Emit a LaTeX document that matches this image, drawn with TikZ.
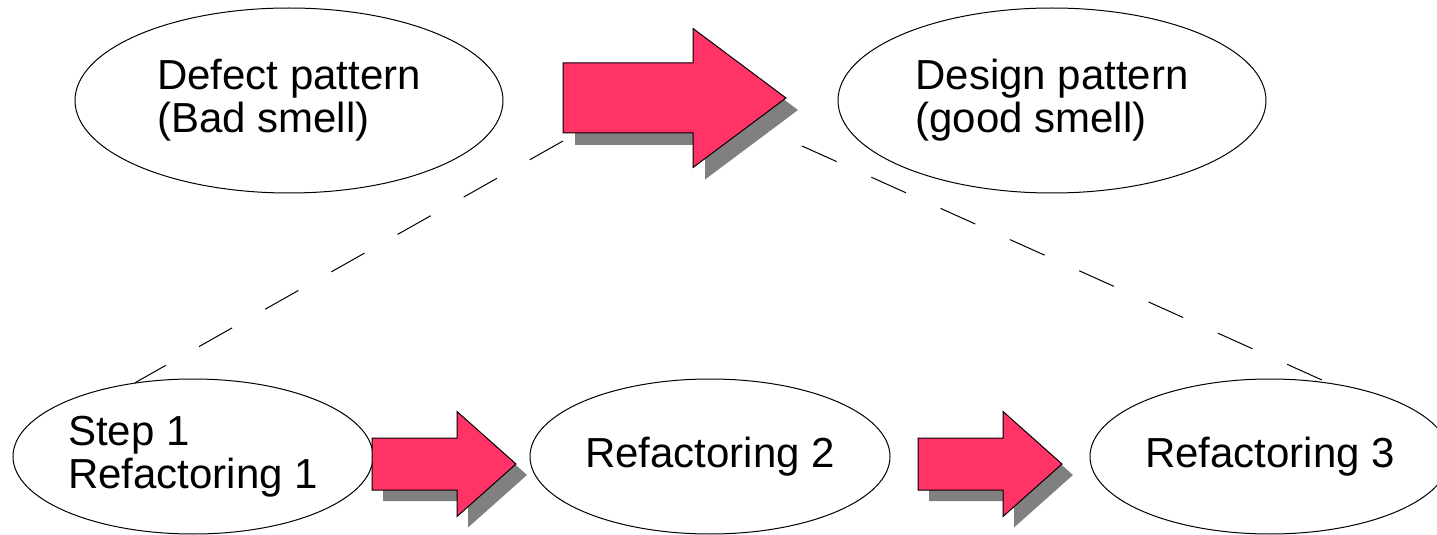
\documentclass[tikz,border=0pt]{standalone}
\usepackage{fontspec}
\setmainfont{Liberation Sans}
\usetikzlibrary{shapes.geometric,positioning}
\definecolor{arrowred}{RGB}{255,51,102}
\definecolor{shadowgrey}{RGB}{128,128,128}
\begin{document}
\begin{tikzpicture} [
        x=0.5pt, y=-0.5pt,
        bigblob/.style={draw=black, ellipse, line width=0.5pt, inner sep=0pt, minimum width=214pt, minimum height=92.5pt, align=left},
        smallblob/.style={bigblob, minimum width=180pt, minimum height=77.5pt},
        arrowbody/.style={fill=arrowred, draw=black, line width=0.5pt},
        arrowshade/.style={fill=shadowgrey},
        stage/.style={draw=black, dash pattern=on 19pt off 19pt, line width=0.5pt},
        font=\fontsize{21}{21.5}\selectfont,
        node distance=381.5pt ]
    \useasboundingbox (0,0) rectangle (1437,535);
    \node[bigblob] (defect) at (289,100.5) {Defect pattern\\(Bad smell)};
    \node[bigblob, right of=defect] (design) {Design pattern\\(good smell)};
    \node[smallblob] (step1) at (193,456.5) {Step 1\\Refactoring 1};
    \node[smallblob, right of=step1, node distance=258.5pt] (refac2) {Refactoring 2};
    \node[smallblob, right of=refac2, node distance=280pt] (refac3) {Refactoring 3};
    % big arrow with shadow
    \fill[arrowshade, shift={(12,12)}] (563,63) -- (693,63) -- (693,28.5) -- (786,98) -- (693,167.5) -- (693,133) -- (563,133) -- cycle;
    \draw[arrowbody] (563,63) -- (693,63) -- (693,28.5) -- (786,98) -- (693,167.5) -- (693,133) -- (563,133) -- cycle;
    % small arrows
    \foreach \ax in {372,918} {
        \fill[arrowshade, shift={(11,11)}] (\ax,438) -- (\ax+85,438) -- (\ax+85,411.5) -- (\ax+144,464) -- (\ax+85,516.5) -- (\ax+85,490) -- (\ax,490) -- cycle;
        \draw[arrowbody] (\ax,438) -- (\ax+85,438) -- (\ax+85,411.5) -- (\ax+144,464) -- (\ax+85,516.5) -- (\ax+85,490) -- (\ax,490) -- cycle;
    }
    \coordinate (lefttop) at (563,141);
    \coordinate (righttop) at (802,146);
    \draw[stage] (lefttop) -- (step1.128);
    \draw[stage] (righttop) -- (refac3.52);
    \end{tikzpicture}
\end{document}
